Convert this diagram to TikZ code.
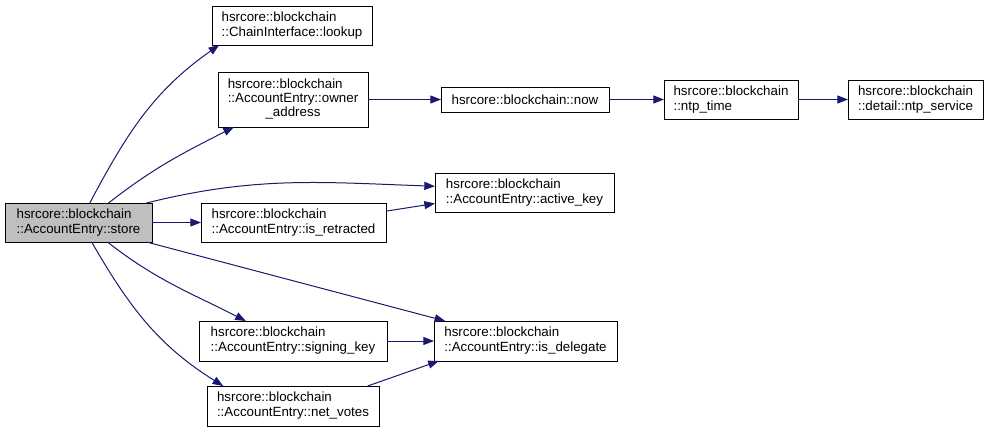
\documentclass[tikz,border=0pt]{standalone}
\usepackage{fontspec}
\setmainfont{Liberation Sans}
\usetikzlibrary{arrows.meta}
\definecolor{edgeblue}{RGB}{25,25,112}
\definecolor{hlgray}{RGB}{191,191,191}
\tikzset{
  box/.style={draw=black, line width=0.75pt, fill=white, inner sep=0pt, outer sep=0pt,
    align=left, font=\fontsize{10}{11.25}\selectfont},
  curbox/.style={fill=hlgray},
  call/.style={draw=edgeblue, line width=0.75pt, -{Triangle[length=8pt,width=6pt,fill=edgeblue]}}
}
\newcommand\mkbox[7][]{%
  \node[box,#1,minimum width={(#5-#3)*0.75pt},minimum height={(#6-#4)*0.75pt}]
    (#2) at ({(#3+#5)/2},{(#4+#6)/2}) {#7};}
\begin{document}
\begin{tikzpicture}[x=0.75pt,y=-0.75pt]
\useasboundingbox (0,0) rectangle (988,432);
\mkbox[curbox]{store}{5}{203}{152}{242}{hsrcore::blockchain\\::AccountEntry::store}
\mkbox{lookup}{212}{6}{372}{45}{hsrcore::blockchain\\::ChainInterface::lookup}
\mkbox{owner}{218}{72}{368}{127}{\def\arraystretch{0.9375}\begin{tabular}{@{}l@{}}hsrcore::blockchain\\::AccountEntry::owner\\\multicolumn{1}{@{}c@{}}{\_address}\end{tabular}}
\mkbox{now}{441}{87}{609}{112}{hsrcore::blockchain::now}
\mkbox{ntptime}{664}{80}{798}{119}{hsrcore::blockchain\\::ntp\_time}
\mkbox{ntpservice}{848}{80}{983}{119}{hsrcore::blockchain\\::detail::ntp\_service}
\mkbox{activekey}{435}{173}{614}{212}{hsrcore::blockchain\\::AccountEntry::active\_key}
\mkbox{retracted}{201}{203}{386}{242}{hsrcore::blockchain\\::AccountEntry::is\_retracted}
\mkbox{signing}{199}{321}{387}{361}{hsrcore::blockchain\\::AccountEntry::signing\_key}
\mkbox{delegate}{434}{321}{617}{361}{hsrcore::blockchain\\::AccountEntry::is\_delegate}
\mkbox{votes}{207}{386}{379}{426}{hsrcore::blockchain\\::AccountEntry::net\_votes}

\draw[call] (store.60) to[out=62,in=215] (lookup.195.6);
\draw[call] (store.33.5) to[out=38,in=207] (owner.205.3);
\draw[call] (store.16.8) to[out=14,in=178] (activekey.176.5);
\draw[call] (store) -- (retracted);
\draw[call] (retracted.7) -- (activekey.187.3);
\draw[call] (store.344) -- (delegate.166.2);
\draw[call] (store.326.5) to[out=-38,in=153] (signing.157.4);
\draw[call] (store.304.7) to[out=-60,in=148] (votes.164.7);
\draw[call] (signing) -- (delegate);
\draw[call] (votes.15.3) -- (delegate.193.6);
\draw[call] (owner) -- (now);
\draw[call] (now) -- (ntptime);
\draw[call] (ntptime) -- (ntpservice);
\end{tikzpicture}
\end{document}
